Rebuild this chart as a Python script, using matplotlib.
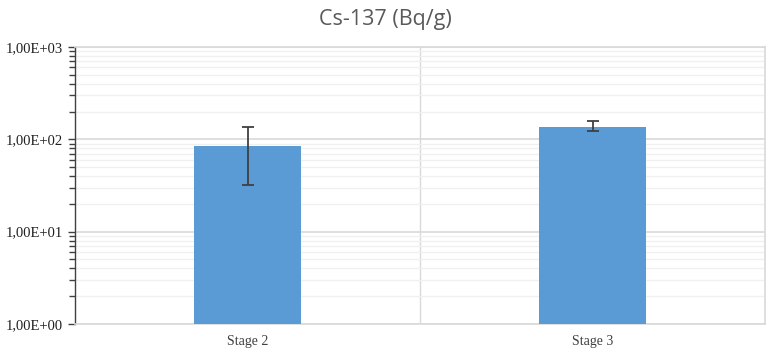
import matplotlib
matplotlib.use("Agg")
import matplotlib.pyplot as plt
import numpy as np
from matplotlib.ticker import LogLocator, FixedLocator, FuncFormatter, NullFormatter

categories = ["Stage 2", "Stage 3"]
values = [85, 136]
err_low = [53, 13]
err_high = [51, 22]
y_ticks = [1, 10, 100, 1000]
y_tick_labels = ["1,00E+00", "1,00E+01", "1,00E+02", "1,00E+03"]

fig = plt.figure(figsize=(7.67, 3.53), dpi=100)
ax = fig.add_axes([75/767, 1 - 324/353, 690/767, (324-47)/353])

x = np.arange(len(categories))
ax.bar(x, values, width=0.31, color="#5B9BD5", zorder=3)
ax.errorbar(x, values, yerr=[err_low, err_high], fmt="none", ecolor="#404040",
            elinewidth=1.3, capsize=4, capthick=1.3, zorder=4)

ax.set_yscale("log")
ax.set_ylim(1, 1000)
ax.set_xlim(-0.5, len(categories) - 0.5)
ax.yaxis.set_major_locator(FixedLocator(y_ticks))
ax.yaxis.set_major_formatter(FuncFormatter(lambda v, p: y_tick_labels[y_ticks.index(int(round(v)))] if int(round(v)) in y_ticks else ""))
ax.yaxis.set_minor_locator(LogLocator(base=10, subs=np.arange(2, 10)))
ax.yaxis.set_minor_formatter(NullFormatter())

ax.set_xticks(x)
ax.set_xticklabels(categories, fontfamily="Liberation Serif", fontsize=10, color="#404040")
for lab in ax.get_yticklabels():
    lab.set_fontfamily("Liberation Serif")
    lab.set_fontsize(10.5)
    lab.set_color("#202020")

ax.grid(which="major", axis="y", color="#d9d9d9", linewidth=1.2, zorder=0)
ax.grid(which="minor", axis="y", color="#f0f0f0", linewidth=1.0, zorder=0)
ax.axvline(0.5, color="#d9d9d9", linewidth=1.0, zorder=0)

ax.tick_params(axis="x", length=0, pad=8)
ax.tick_params(axis="y", which="major", length=5, color="#404040", width=1)
ax.tick_params(axis="y", which="minor", length=4, color="#404040", width=1)

ax.spines["left"].set_color("#404040")
ax.spines["left"].set_linewidth(1.0)
for s in ["top", "right", "bottom"]:
    ax.spines[s].set_color("#d9d9d9")
    ax.spines[s].set_linewidth(1.2)

fig.text(385/767, 1 - 20/353, "Cs-137 (Bq/g)", ha="center", va="center",
         fontfamily="Open Sans", fontsize=15.5, color="#595959")

fig.savefig("out.png", dpi=100)
